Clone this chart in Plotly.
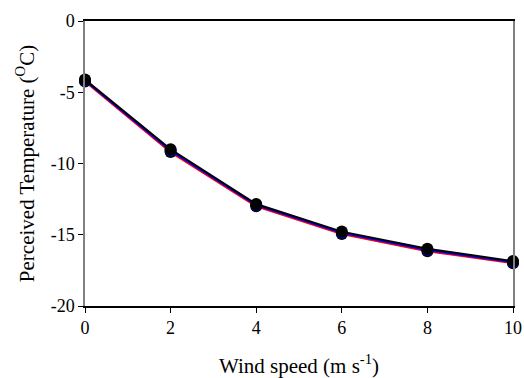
import plotly.graph_objects as go

wind_speed = [0, 2, 4, 6, 8, 10]
red_series = [-4.25, -9.2, -13.0, -14.95, -16.15, -17.0]
blue_series = [-4.18, -9.1, -12.92, -14.87, -16.07, -16.93]
black_series = [-4.1, -9.0, -12.84, -14.78, -15.98, -16.85]
x_ticks = [0, 2, 4, 6, 8, 10]
y_ticks = [-20, -15, -10, -5, 0]

SERIF = "Liberation Serif"

fig = go.Figure()
fig.add_trace(go.Scatter(x=wind_speed, y=red_series, mode="lines+markers",
                         line=dict(color="red", width=2),
                         marker=dict(color="black", size=12), cliponaxis=False))
fig.add_trace(go.Scatter(x=wind_speed, y=blue_series, mode="lines+markers",
                         line=dict(color="blue", width=2),
                         marker=dict(color="#000080", size=12), cliponaxis=False))
fig.add_trace(go.Scatter(x=wind_speed, y=black_series, mode="lines+markers",
                         line=dict(color="black", width=2),
                         marker=dict(color="black", size=12), cliponaxis=False))

fig.update_layout(
    width=524, height=378,
    margin=dict(l=85, r=11, t=21, b=72),
    paper_bgcolor="white", plot_bgcolor="white",
    showlegend=False,
    font=dict(family=SERIF, size=16, color="black"),
    xaxis=dict(range=[0, 10], tickvals=x_ticks, showgrid=False, zeroline=False,
               showline=True, linecolor="black", linewidth=1.5, mirror=True,
               ticks="outside", ticklen=5, tickcolor="black", automargin=False,
               tickfont=dict(family=SERIF, size=18, color="black"),
               title=dict(text="Wind speed (m s<sup>-1</sup>)", standoff=21,
                          font=dict(family=SERIF, size=21, color="black"))),
    yaxis=dict(range=[-20, 0], tickvals=y_ticks, ticktext=[str(v) for v in y_ticks],
               showgrid=False, zeroline=False,
               showline=True, linecolor="gray", linewidth=1.5, mirror=True,
               ticks="outside", ticklen=5, tickcolor="black", automargin=False,
               tickfont=dict(family=SERIF, size=18, color="black"),
               title=dict(text="Perceived Temperature (<sup>O</sup>C)", standoff=10,
                          font=dict(family=SERIF, size=21, color="black"))),
)

fig.write_html("out.html", config={"displayModeBar": False},
               post_script="document.body.style.margin='0';")
